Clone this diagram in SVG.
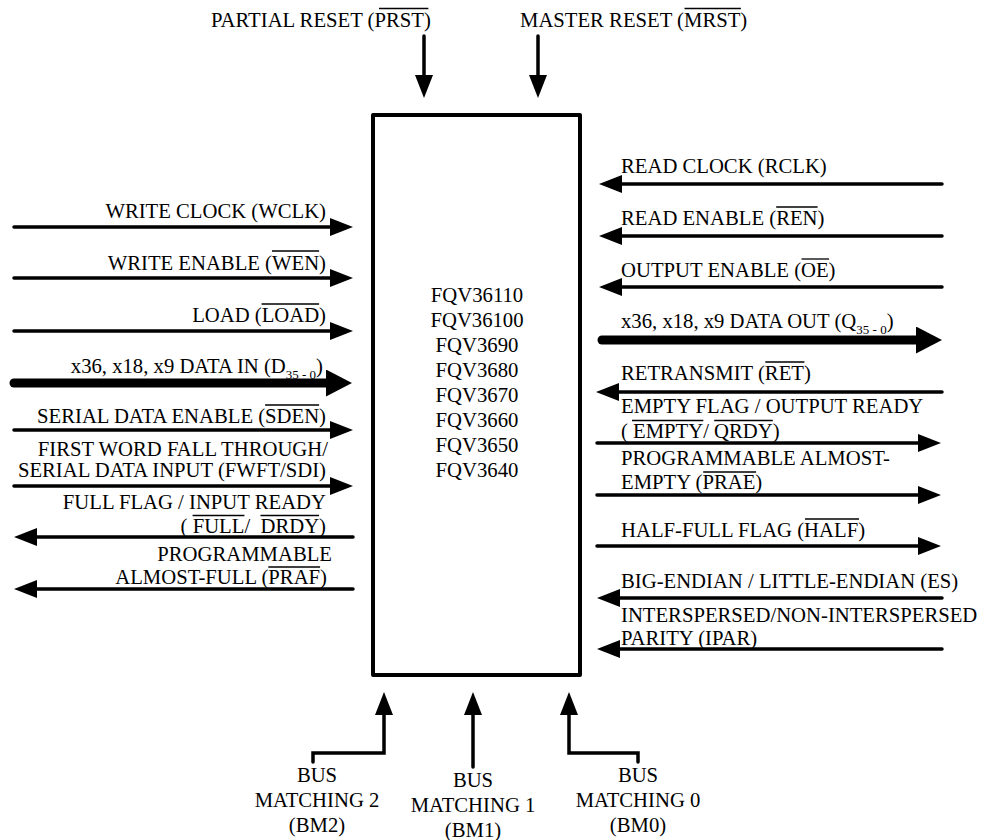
<svg xmlns="http://www.w3.org/2000/svg" width="985" height="840" viewBox="0 0 985 840" font-family="'Liberation Serif', 'Times New Roman', Tinos, 'Nimbus Roman', 'DejaVu Serif', serif">
<style>
text{font-family:'Liberation Serif','Times New Roman',Tinos,'Nimbus Roman','DejaVu Serif',serif;font-size:20.7px;fill:#000;white-space:pre}
.e{text-anchor:end}
.m{text-anchor:middle}
.sub{font-size:13px}
.ol{stroke:#000;stroke-width:1.3;fill:none}
.w{fill:none;stroke:#000;stroke-width:3.5;stroke-linecap:round;marker-end:url(#ah)}
.t{fill:none;stroke:#000;stroke-width:9;stroke-linecap:round;marker-end:url(#ath)}
</style>
<defs>
<marker id="ah" markerUnits="userSpaceOnUse" markerWidth="24" markerHeight="20" refX="10" refY="9" orient="auto"><path d="M0,0 L23,9 L0,18 Z" fill="#000"/></marker>
<marker id="ath" markerUnits="userSpaceOnUse" markerWidth="28" markerHeight="28" refX="12" refY="13.5" orient="auto"><path d="M0,0 L26,13.5 L0,27 Z" fill="#000"/></marker>
</defs>
<g id="fifo">
<rect x="373" y="115" width="207" height="560" fill="#fff" stroke="#000" stroke-width="4" stroke-linejoin="round"/>
<text class="m" x="477" y="301.5">FQV36110</text>
<text class="m" x="477" y="326.5">FQV36100</text>
<text class="m" x="477" y="351.5">FQV3690</text>
<text class="m" x="477" y="376.5">FQV3680</text>
<text class="m" x="477" y="401.5">FQV3670</text>
<text class="m" x="477" y="426.5">FQV3660</text>
<text class="m" x="477" y="451.5">FQV3650</text>
<text class="m" x="477" y="476.5">FQV3640</text>
</g>
<g id="connectors">
<line class="w" x1="424" y1="36" x2="424" y2="85"/>
<line class="w" x1="538" y1="36" x2="538" y2="85"/>
<line class="w" x1="14" y1="227" x2="340" y2="227"/>
<line class="w" x1="14" y1="278" x2="340" y2="278"/>
<line class="w" x1="14" y1="331" x2="340" y2="331"/>
<line class="t" x1="14" y1="383" x2="338" y2="383"/>
<line class="w" x1="14" y1="430" x2="340" y2="430"/>
<line class="w" x1="14" y1="486" x2="340" y2="486"/>
<line class="w" x1="353" y1="537" x2="27" y2="537"/>
<line class="w" x1="353" y1="589" x2="27" y2="589"/>
<line class="w" x1="942" y1="184" x2="612" y2="184"/>
<line class="w" x1="942" y1="236" x2="612" y2="236"/>
<line class="w" x1="942" y1="287" x2="612" y2="287"/>
<line class="t" x1="602" y1="340" x2="928" y2="340"/>
<line class="w" x1="942" y1="392" x2="609" y2="392"/>
<line class="w" x1="597" y1="443" x2="928" y2="443"/>
<line class="w" x1="597" y1="495" x2="928" y2="495"/>
<line class="w" x1="597" y1="546" x2="928" y2="546"/>
<line class="w" x1="942" y1="598" x2="610" y2="598"/>
<line class="w" x1="942" y1="649" x2="610" y2="649"/>
<path class="w" d="M313,762 L313,753 L384,753 L384,705" stroke-linejoin="miter" stroke-linecap="butt"/>
<line class="w" x1="473" y1="767" x2="473" y2="705"/>
<path class="w" d="M638,762 L638,753 L569,753 L569,705" stroke-linejoin="miter" stroke-linecap="butt"/>
</g>
<g id="top-labels">
<g id="prst">
<text x="211" y="26.7">PARTIAL RESET (PRST)</text>
<line class="ol" x1="379" y1="8.5" x2="428.4" y2="8.5"/>
</g>
<g id="mrst">
<text x="520" y="26.7">MASTER RESET (MRST)</text>
<line class="ol" x1="684.5" y1="8.5" x2="740.9" y2="8.5"/>
</g>
</g>
<g id="left-labels">
<g id="wclk"><text class="e" x="326" y="217.7">WRITE CLOCK (WCLK)</text></g>
<g id="wen"><text class="e" x="326" y="270">WRITE ENABLE (WEN)</text>
<line class="ol" x1="272" y1="251" x2="319.1" y2="251"/></g>
<g id="load"><text class="e" x="326" y="322">LOAD (LOAD)</text>
<line class="ol" x1="261.6" y1="304" x2="319.1" y2="304"/></g>
<g id="din"><text class="e" x="323" y="373">x36, x18, x9 DATA IN (D<tspan class="sub" dy="6">35 - 0</tspan><tspan dy="-6">)</tspan></text></g>
<g id="sden"><text class="e" x="326" y="423">SERIAL DATA ENABLE (SDEN)</text>
<line class="ol" x1="265.1" y1="405" x2="319.1" y2="405"/></g>
<g id="fwft"><text class="e" x="328" y="456">FIRST WORD FALL THROUGH/</text>
<text class="e" x="326" y="477">SERIAL DATA INPUT (FWFT/SDI)</text></g>
<g id="full"><text class="e" x="326" y="509">FULL FLAG / INPUT READY</text>
<text class="e" x="326" y="532.5">( FULL/  DRDY)</text>
<line class="ol" x1="192.6" y1="515.5" x2="244.4" y2="515.5"/>
<line class="ol" x1="260.5" y1="515.5" x2="319.1" y2="515.5"/></g>
<g id="praf"><text class="e" x="332" y="561">PROGRAMMABLE</text>
<text class="e" x="327" y="584">ALMOST-FULL (PRAF)</text>
<line class="ol" x1="268.3" y1="567" x2="320.1" y2="567"/></g>
</g>
<g id="right-labels">
<g id="rclk"><text x="621" y="173.3">READ CLOCK (RCLK)</text></g>
<g id="ren"><text x="621" y="225">READ ENABLE (REN)</text>
<line class="ol" x1="776.2" y1="207" x2="817.6" y2="207"/></g>
<g id="oe"><text x="621" y="276.7">OUTPUT ENABLE (OE)</text>
<line class="ol" x1="801.5" y1="259" x2="829.1" y2="259"/></g>
<g id="qout"><text x="621" y="327.7">x36, x18, x9 DATA OUT (Q<tspan class="sub" dy="6">35 - 0</tspan><tspan dy="-6">)</tspan></text></g>
<g id="ret"><text x="621" y="380">RETRANSMIT (RET)</text>
<line class="ol" x1="765.3" y1="362" x2="804.4" y2="362"/></g>
<g id="empty"><text x="621" y="413.3">EMPTY FLAG / OUTPUT READY</text>
<text x="621" y="438.3">( EMPTY/ QRDY)</text>
<line class="ol" x1="632" y1="420.5" x2="703.3" y2="420.5"/>
<line class="ol" x1="714.2" y1="420.5" x2="772.8" y2="420.5"/></g>
<g id="prae"><text x="621" y="465">PROGRAMMABLE ALMOST-</text>
<text x="621" y="489.3">EMPTY (PRAE)</text>
<line class="ol" x1="703.2" y1="472" x2="756.1" y2="472"/></g>
<g id="half"><text x="621" y="536.7">HALF-FULL FLAG (HALF)</text>
<line class="ol" x1="805" y1="519" x2="859" y2="519"/></g>
<g id="es"><text x="621" y="588.3">BIG-ENDIAN / LITTLE-ENDIAN (ES)</text></g>
<g id="ipar"><text x="621" y="621.7">INTERSPERSED/NON-INTERSPERSED</text>
<text x="621" y="644.5">PARITY (IPAR)</text></g>
</g>
<g id="bottom-labels">
<g id="bm2">
<text class="m" x="317" y="781.7">BUS</text>
<text class="m" x="317" y="806.7">MATCHING 2</text>
<text class="m" x="317" y="831.7">(BM2)</text>
</g>
<g id="bm1">
<text class="m" x="473" y="786.7">BUS</text>
<text class="m" x="473" y="811.7">MATCHING 1</text>
<text class="m" x="473" y="836.7">(BM1)</text>
</g>
<g id="bm0">
<text class="m" x="638" y="781.7">BUS</text>
<text class="m" x="638" y="806.7">MATCHING 0</text>
<text class="m" x="638" y="831.7">(BM0)</text>
</g>
</g>
</svg>
